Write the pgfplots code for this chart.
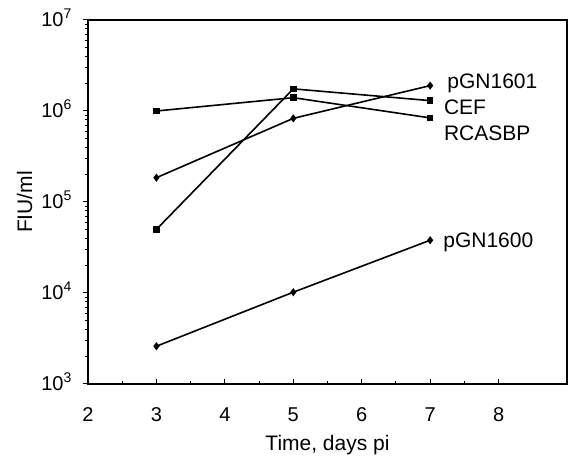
\documentclass[border=0pt]{standalone}
\usepackage{fontspec}
\setmainfont{Liberation Sans}
\usepackage{pgfplots}
\pgfplotsset{compat=1.18}

\begin{document}
\begin{tikzpicture}[x=1pt,y=1pt]
\begin{axis}[
  scale only axis,
  width=479pt, height=364pt,
  xmin=2, xmax=9,
  ymode=log, ymin=1e3, ymax=1e7,
  xtick={2,3,4,5,6,7,8},
  minor x tick num=1,
  ytick={1e3,1e4,1e5,1e6,1e7},
  yticklabels={10\textsuperscript{3},10\textsuperscript{4},10\textsuperscript{5},10\textsuperscript{6},10\textsuperscript{7}},
  /pgf/number format/assume math mode=true,
  ticklabel style={font=\fontsize{20}{22}\selectfont, inner sep=0pt},
  xticklabel style={anchor=base, yshift=-38pt},
  yticklabel style={anchor=base east, xshift=-11pt, yshift=-6.5pt},
  xtick pos=bottom, ytick pos=left,
  xtick align=inside, ytick align=outside,
  major tick length=5pt, minor tick length=3pt,
  every tick/.style={black, line width=1pt},
  axis line style={line width=1.3pt},
  xlabel={Time, days pi},
  ylabel={FIU/ml},
  label style={font=\fontsize{21}{23}\selectfont, inner sep=0pt},
  xlabel style={at={(axis description cs:0.5,-0.1841)}, anchor=base},
  ylabel style={at={(axis description cs:-0.1169,0.5)}, anchor=base},
  every axis plot/.style={black, line width=1.6pt},
  clip=false,
]
% RCASBP
\addplot[mark=square*, mark size=2.5pt] coordinates {(3,1.0e6) (5,1.4e6) (7,8.4e5)};
% CEF
\addplot[mark=square*, mark size=2.5pt] coordinates {(3,5.0e4) (5,1.75e6) (7,1.3e6)};
% pGN1601
\addplot[mark=diamond*, mark size=2.8pt] coordinates {(3,1.85e5) (5,8.3e5) (7,1.9e6)};
% pGN1600
\addplot[mark=diamond*, mark size=2.8pt] coordinates {(3,2.6e3) (5,1.02e4) (7,3.8e4)};

\begin{scope}[every node/.style={anchor=base west, inner sep=0pt, font=\fontsize{21}{23}\selectfont}]
\node at (axis cs:7.25,1.746e6) {pGN1601};
\node at (axis cs:7.20,9.04e5) {CEF};
\node at (axis cs:7.20,4.68e5) {RCASBP};
\node at (axis cs:7.19,3.2e4) {pGN1600};
\end{scope}
\path (rel axis cs:0,0) ++(-88pt,-73pt) coordinate (bl);
\path (rel axis cs:1,1) ++(10pt,20pt) coordinate (tr);
\end{axis}
\useasboundingbox (bl) rectangle (tr);
\end{tikzpicture}
\end{document}
